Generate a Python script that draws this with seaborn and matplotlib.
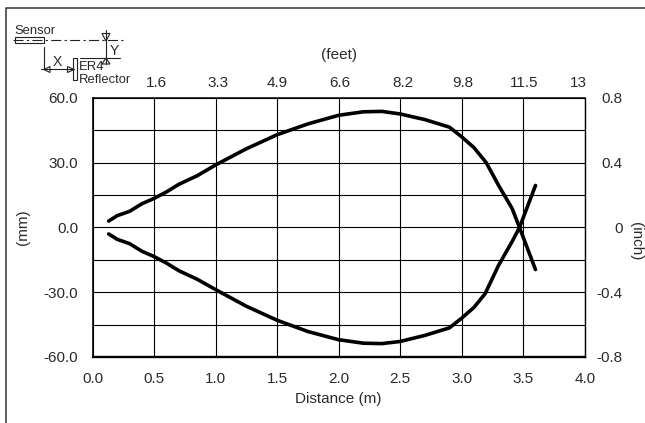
import matplotlib
matplotlib.use("Agg")
import matplotlib.pyplot as plt
from matplotlib.lines import Line2D
from matplotlib.patches import Polygon, Rectangle
from matplotlib.transforms import ScaledTranslation
import numpy as np
import pandas as pd
import seaborn as sns

upper_x = [0.13, 0.2, 0.3, 0.4, 0.5, 0.6, 0.7, 0.85, 1.0, 1.25, 1.5, 1.75, 2.0, 2.2, 2.35, 2.5, 2.7, 2.9, 3.0, 3.1, 3.2, 3.3, 3.41, 3.47, 3.6]
upper_y = [3, 5.5, 7.5, 11, 13.5, 16.5, 20, 24, 29, 36.5, 43, 48, 52, 53.6, 53.8, 52.6, 50, 46.5, 42, 37, 30, 19.5, 8.8, 0, -19.5]
lower_x = [0.13, 0.2, 0.3, 0.4, 0.5, 0.6, 0.7, 0.85, 1.0, 1.25, 1.5, 1.75, 2.0, 2.2, 2.35, 2.5, 2.7, 2.9, 3.0, 3.1, 3.19, 3.3, 3.41, 3.47, 3.6]
lower_y = [-3, -5.5, -7.5, -11, -13.5, -16.5, -20, -24, -28.8, -36.5, -43, -48.2, -52, -53.6, -53.8, -52.8, -50, -46.5, -42, -37, -30.7, -17.5, -6.5, 0, 19.5]

x_ticks = [0.0, 0.5, 1.0, 1.5, 2.0, 2.5, 3.0, 3.5, 4.0]
feet_labels = ["1.6", "3.3", "4.9", "6.6", "8.2", "9.8", "11.5", "13"]
feet_nudge_px = [2, 2, 0, 1, 3, 1, 1, -6.5]
mm_ticks = [-60, -30, 0, 30, 60]
mm_grid = [-45, -15, 15, 45]
inch_labels = ["-0.8", "-0.4", "0", "0.4", "0.8"]

sns.set_theme(style="white")
plt.rcParams["font.family"] = ["Liberation Sans", "DejaVu Sans"]
plt.rcParams["text.color"] = "#2a2a2a"
plt.rcParams["xtick.labelcolor"] = "#2a2a2a"
plt.rcParams["ytick.labelcolor"] = "#2a2a2a"
plt.rcParams["axes.labelcolor"] = "#2a2a2a"

W, H = 645, 423
FS = 11
fig = plt.figure(figsize=(W / 100, H / 100), dpi=100)
ax = fig.add_axes([92.7 / W, 1 - 357 / H, 492 / W, 259 / H])

df = pd.concat([
    pd.DataFrame({"x": upper_x, "y": upper_y, "side": "upper"}),
    pd.DataFrame({"x": lower_x, "y": lower_y, "side": "lower"}),
])
sns.lineplot(data=df, x="x", y="y", units="side", estimator=None, sort=False,
             color="black", linewidth=2.6, ax=ax, zorder=5)

ax.set_xlim(0, 4)
ax.set_ylim(-60, 60)
ax.set_xticks(x_ticks)
ax.set_xticklabels([f"{t:.1f}" for t in x_ticks], fontsize=FS)
ax.set_yticks(mm_ticks)
ax.set_yticklabels([f"{t:.1f}" for t in mm_ticks], fontsize=FS)
ax.set_yticks(mm_grid, minor=True)
ax.tick_params(axis="both", which="major", length=3.5, width=0.8, color="black")
ax.tick_params(axis="x", which="major", pad=7.5)
ax.tick_params(axis="y", which="major", pad=7)
ax.tick_params(axis="y", which="minor", length=0)
ax.grid(True, which="both", color="black", linewidth=0.8)
ax.set_axisbelow(True)
ax.set_xlabel("Distance (m)", fontsize=FS)
ax.xaxis.set_label_coords(0.5, (357 - 392) / 259)
ax.set_ylabel("(mm)", fontsize=FS)
ax.yaxis.set_label_coords((30 - 92.7) / 492, 0.5)
for name, width in [("left", 1.2), ("bottom", 1.7), ("top", 1.1), ("right", 1.0)]:
    ax.spines[name].set_color("black")
    ax.spines[name].set_linewidth(width)

# feet scale on top, inch scale on the right
top = ax.secondary_xaxis("top")
top.set_xticks(x_ticks[1:])
top.set_xticklabels(feet_labels, fontsize=FS)
top.tick_params(length=0, pad=6)
top.spines["top"].set_visible(False)
for lab, dx in zip(top.get_xticklabels(), feet_nudge_px):
    lab.set_transform(lab.get_transform() + ScaledTranslation(dx / 100, 0, fig.dpi_scale_trans))

right = ax.secondary_yaxis("right")
right.set_yticks(mm_ticks)
right.set_yticklabels(inch_labels, fontsize=FS, ha="right")
right.tick_params(length=0, pad=27.5)
right.spines["right"].set_visible(False)

# overlay in pixel coordinates: axis titles, outer frame and sensor sketch
ov = fig.add_axes([0, 0, 1, 1], facecolor="none")
ov.set_xlim(0, W)
ov.set_ylim(H, 0)
ov.axis("off")

ov.text(339, 55, "(feet)", fontsize=FS, ha="center", va="center")
ov.text(636, 241, "(inch)", fontsize=FS, ha="center", va="center", rotation=270)

ov.add_line(Line2D([5.5, 5.5, W], [H, 8, 8], color="#333333", linewidth=1.1))

dark = "#222222"
ov.add_patch(Rectangle((14.5, 37), 29, 6.5, fill=False, ec=dark, lw=0.8))
ov.add_patch(Rectangle((73, 58.5), 3.5, 21.5, fill=False, ec=dark, lw=0.8))
ov.add_line(Line2D([13, 126], [40.5, 40.5], color=dark, lw=0.8, ls=(0, (9, 3, 2, 3))))
ov.add_line(Line2D([43.5, 43.5], [47, 69], color=dark, lw=0.8))
ov.add_line(Line2D([41, 74], [69.5, 69.5], color=dark, lw=0.8))
ov.add_line(Line2D([106, 106], [30, 64], color=dark, lw=0.8))
ov.add_line(Line2D([80, 120], [58, 58], color=dark, lw=0.8))
triangles = [
    [(44, 69.5), (50, 66.5), (50, 72.5)],
    [(74, 69.5), (67.5, 66.5), (67.5, 72.5)],
    [(106, 41), (102, 33.5), (110, 33.5)],
    [(106, 58), (102, 64), (110, 64)],
]
for tri in triangles:
    ov.add_patch(Polygon(tri, closed=True, fill=False, ec=dark, lw=0.8))

ov.text(14, 34, "Sensor", fontsize=9.4, ha="left", va="baseline")
ov.text(52.5, 66, "X", fontsize=10, ha="left", va="baseline")
ov.text(110, 55, "Y", fontsize=10, ha="left", va="baseline")
ov.text(79, 70, "ER4", fontsize=9.4, ha="left", va="baseline")
ov.text(79, 83, "Reflector", fontsize=9.4, ha="left", va="baseline")

fig.savefig("out.png", dpi=100)
